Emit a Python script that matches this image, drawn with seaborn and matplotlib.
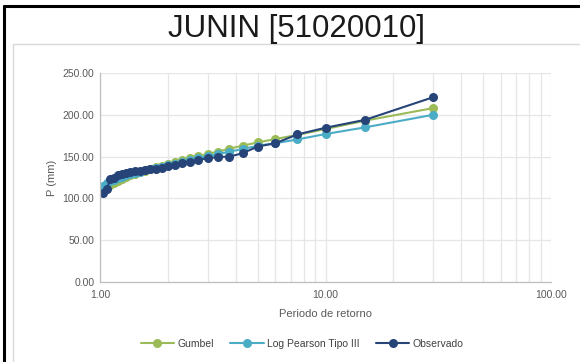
import matplotlib
matplotlib.use("Agg")
import matplotlib.pyplot as plt
from matplotlib.lines import Line2D
from matplotlib.ticker import FormatStrFormatter, FixedLocator, LogLocator, NullFormatter
import numpy as np
import pandas as pd
import seaborn as sns

# Return periods (years), largest to smallest
periodo = [30.0, 15.0, 10.0, 7.5, 6.0, 5.0, 4.286, 3.75, 3.333, 3.0,
           2.727, 2.5, 2.308, 2.143, 2.0, 1.875, 1.765, 1.667, 1.579, 1.5,
           1.429, 1.364, 1.304, 1.25, 1.2, 1.154, 1.111, 1.071, 1.034]

# Maximum precipitation P (mm) for each return period
gumbel = [208.0, 193.0, 183.0, 176.0, 171.0, 167.0, 163.0, 159.5, 156.0, 153.0,
          150.5, 148.0, 145.5, 143.0, 141.0, 139.0, 137.0, 135.0, 133.0, 131.5,
          129.5, 127.5, 125.5, 123.5, 121.0, 119.0, 116.5, 113.5, 109.0]
log_pearson = [200.0, 185.0, 177.0, 170.5, 166.0, 163.0, 159.0, 156.0, 153.0, 150.5,
               148.0, 146.0, 143.5, 141.5, 140.0, 138.0, 136.5, 135.0, 133.5, 132.0,
               130.5, 129.0, 127.5, 126.0, 124.5, 122.5, 120.5, 118.0, 115.0]
observado = [221.0, 194.0, 184.5, 176.5, 166.0, 162.0, 154.0, 150.0, 149.5, 148.0,
             146.0, 144.0, 142.0, 140.0, 138.5, 136.5, 135.5, 135.0, 134.0, 133.0,
             132.5, 131.5, 130.5, 129.5, 127.5, 125.0, 123.0, 111.0, 106.0]

series = [("Gumbel", gumbel, "#9BBB59"),
          ("Log Pearson Tipo III", log_pearson, "#4BACC6"),
          ("Observado", observado, "#264478")]

sns.set_theme(style="white")
plt.rcParams["font.family"] = ["Liberation Sans", "DejaVu Sans"]

fig = plt.figure(figsize=(5.8, 3.62), dpi=100)
ax = fig.add_axes([100 / 580, 1 - 282 / 362, 451 / 580, 209 / 362])

for name, vals, color in series:
    df = pd.DataFrame({"T": periodo, "P": vals})
    sns.lineplot(data=df, x="T", y="P", ax=ax, color=color, marker="o",
                 markersize=6.5, markeredgewidth=0, linewidth=1.5,
                 label=name, sort=True)

ax.set_xscale("log")
ax.set_xlim(1, 100)
ax.set_ylim(0, 250)
ax.yaxis.set_major_locator(FixedLocator([0, 50, 100, 150, 200, 250]))
ax.yaxis.set_major_formatter(FormatStrFormatter("%.2f"))
ax.xaxis.set_major_locator(FixedLocator([1, 10, 100]))
ax.xaxis.set_major_formatter(FormatStrFormatter("%.2f"))
ax.xaxis.set_minor_locator(LogLocator(base=10, subs=np.arange(2, 10)))
ax.xaxis.set_minor_formatter(NullFormatter())

grid_c = "#E6E6E6"
ax.grid(True, which="major", axis="both", color=grid_c, linewidth=0.9)
ax.grid(True, which="minor", axis="x", color=grid_c, linewidth=0.9)
ax.set_axisbelow(True)
for side in ("top", "right"):
    ax.spines[side].set_visible(False)
for side in ("left", "bottom"):
    ax.spines[side].set_color("#BFBFBF")
    ax.spines[side].set_linewidth(0.9)
ax.tick_params(axis="both", which="both", length=0, colors="#595959", labelsize=7.5)
ax.tick_params(axis="x", pad=6)
ax.tick_params(axis="y", pad=4)

ax.set_xlabel("Periodo de retorno", fontsize=8, color="#595959", labelpad=6)
ax.set_ylabel("P (mm)", fontsize=8, color="#595959", labelpad=4)

fig.text(297 / 580, 1 - 28.5 / 362, "JUNIN [51020010]", ha="center", va="center",
         fontsize=22.5, color="#1A1A1A")

leg = ax.legend(loc="center", bbox_to_anchor=(302 / 580, 1 - 344 / 362),
                bbox_transform=fig.transFigure, ncol=3, frameon=False,
                fontsize=7.5, handlelength=3.2, columnspacing=1.6,
                handletextpad=0.3)
for t in leg.get_texts():
    t.set_color("#404040")

# Outer black frame (left and top) and inner light-gray frame
fig.add_artist(Line2D([4 / 580, 4 / 580], [0, 1 - 6 / 362], color="black",
                      linewidth=2.2, transform=fig.transFigure))
fig.add_artist(Line2D([4 / 580, 1], [1 - 6 / 362, 1 - 6 / 362], color="black",
                      linewidth=2.2, transform=fig.transFigure))
fig.add_artist(Line2D([13 / 580, 13 / 580], [0, 1 - 44 / 362], color="#D9D9D9",
                      linewidth=1.0, transform=fig.transFigure))
fig.add_artist(Line2D([13 / 580, 1], [1 - 44 / 362, 1 - 44 / 362], color="#D9D9D9",
                      linewidth=1.0, transform=fig.transFigure))

fig.savefig("out.png", dpi=100, facecolor="white")
